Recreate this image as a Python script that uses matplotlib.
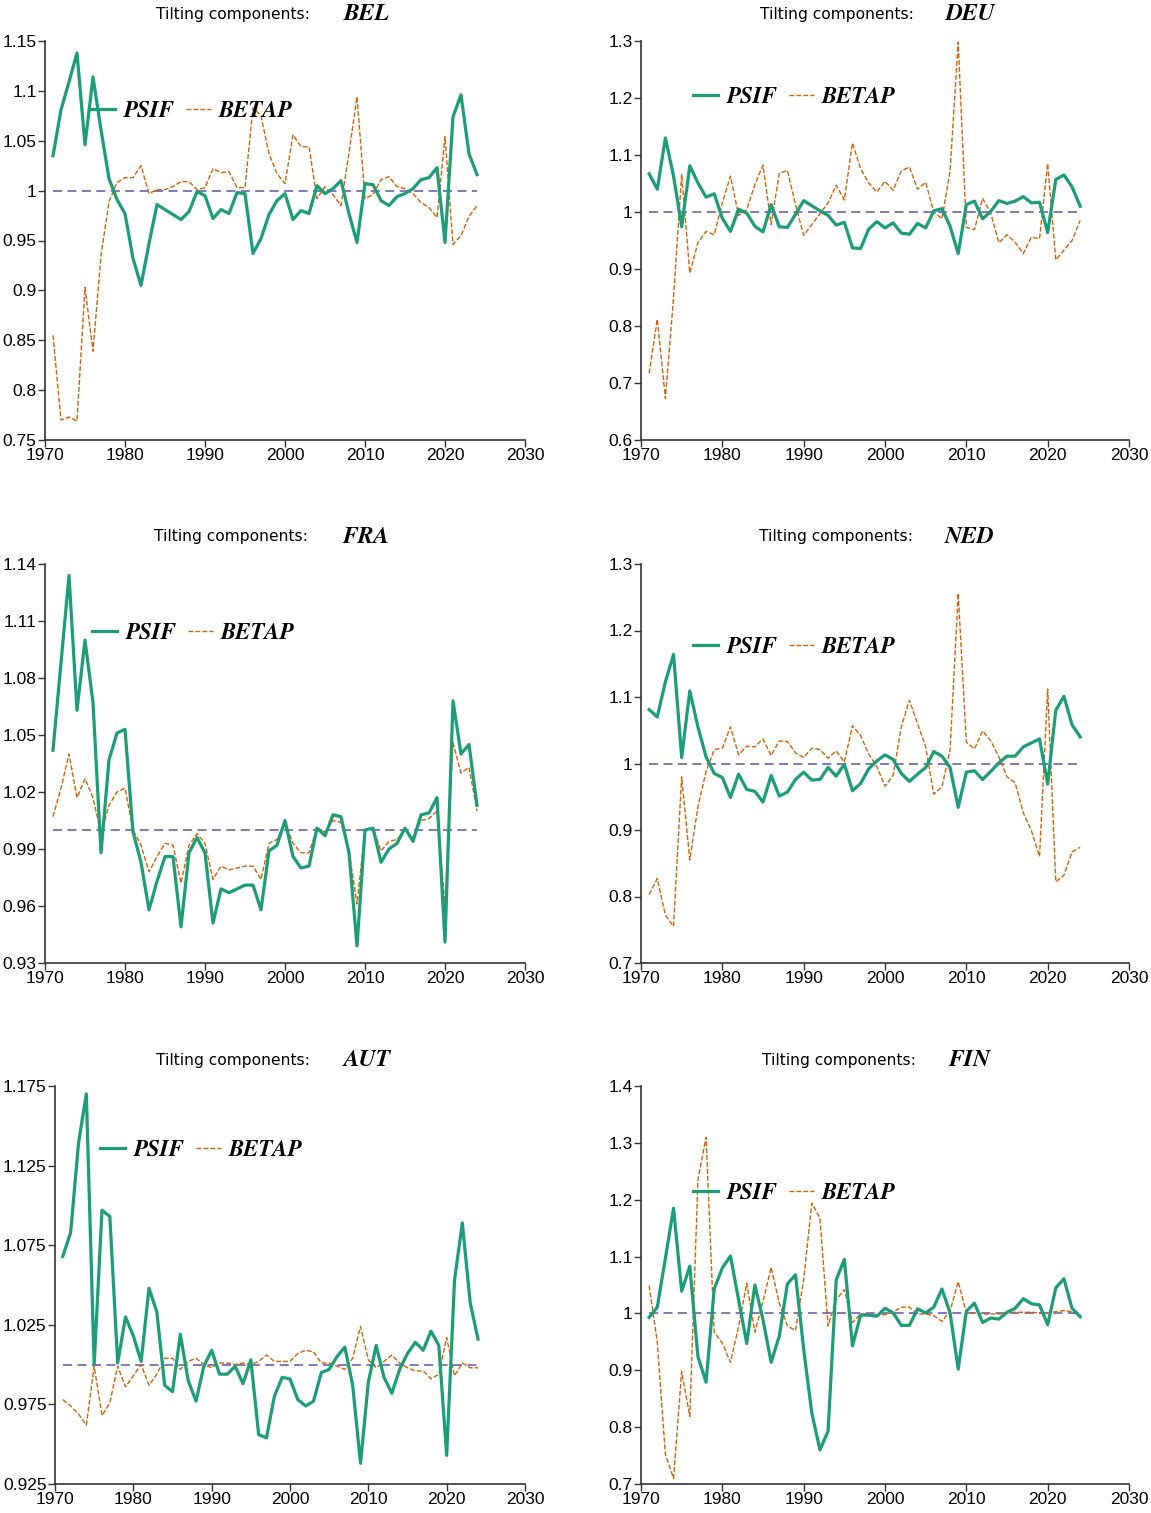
import matplotlib
matplotlib.use("Agg")
import matplotlib.pyplot as plt

# years on the x axis
years = list(range(1971, 2025))

# -------------------------------
# data
# -------------------------------
bel_psif = [1.035, 1.081, 1.109, 1.138, 1.046, 1.114, 1.061, 1.012, 0.991, 0.977,
            0.932, 0.905, 0.947, 0.986, 0.981, 0.976, 0.971, 0.979, 0.999, 0.995,
            0.972, 0.981, 0.977, 0.998, 0.997, 0.937, 0.952, 0.976, 0.990, 0.997,
            0.971, 0.980, 0.977, 1.005, 0.997, 1.002, 1.010, 0.977, 0.948, 1.007,
            1.006, 0.990, 0.985, 0.994, 0.997, 1.002, 1.011, 1.013, 1.023, 0.948,
            1.074, 1.096, 1.037, 1.016]
bel_betap = [0.855, 0.770, 0.773, 0.769, 0.903, 0.839, 0.935, 0.989, 1.008, 1.013,
             1.013, 1.025, 0.997, 1.001, 1.001, 1.004, 1.009, 1.009, 1.001, 1.003,
             1.022, 1.018, 1.019, 1.003, 1.003, 1.083, 1.075, 1.037, 1.017, 1.007,
             1.056, 1.044, 1.044, 0.992, 1.004, 0.996, 0.985, 1.038, 1.094, 0.992,
             0.996, 1.011, 1.014, 1.004, 1.002, 0.997, 0.988, 0.983, 0.973, 1.054,
             0.946, 0.955, 0.974, 0.985]

deu_psif = [1.067, 1.040, 1.130, 1.063, 0.974, 1.081, 1.051, 1.026, 1.032, 0.989,
            0.966, 1.005, 0.998, 0.975, 0.965, 1.013, 0.974, 0.973, 0.996, 1.020,
            1.011, 1.002, 0.994, 0.977, 0.982, 0.937, 0.936, 0.970, 0.983, 0.972,
            0.981, 0.963, 0.961, 0.980, 0.972, 1.002, 1.006, 0.975, 0.927, 1.013,
            1.019, 0.988, 1.001, 1.020, 1.015, 1.019, 1.027, 1.016, 1.017, 0.964,
            1.057, 1.065, 1.044, 1.010]
deu_betap = [0.717, 0.812, 0.673, 0.850, 1.066, 0.893, 0.946, 0.966, 0.960, 1.016,
             1.063, 0.994, 1.004, 1.048, 1.082, 0.978, 1.068, 1.073, 1.013, 0.959,
             0.978, 0.997, 1.016, 1.047, 1.021, 1.121, 1.076, 1.051, 1.035, 1.054,
             1.038, 1.072, 1.079, 1.040, 1.052, 1.000, 0.988, 1.072, 1.298, 0.973,
             0.969, 1.024, 0.998, 0.946, 0.960, 0.947, 0.927, 0.956, 0.953, 1.085,
             0.916, 0.933, 0.950, 0.985]

fra_psif = [1.042, 1.088, 1.134, 1.063, 1.100, 1.067, 0.988, 1.037, 1.051, 1.053,
            0.999, 0.983, 0.958, 0.973, 0.986, 0.986, 0.949, 0.988, 0.996, 0.988,
            0.951, 0.969, 0.967, 0.969, 0.971, 0.971, 0.958, 0.989, 0.992, 1.005,
            0.986, 0.980, 0.981, 1.001, 0.997, 1.008, 1.007, 0.988, 0.939, 1.000,
            1.001, 0.983, 0.990, 0.993, 1.001, 0.994, 1.008, 1.009, 1.017, 0.941,
            1.068, 1.040, 1.045, 1.013]
fra_betap = [1.007, 1.022, 1.040, 1.017, 1.027, 1.017, 0.998, 1.013, 1.020, 1.022,
             1.000, 0.992, 0.978, 0.986, 0.993, 0.992, 0.972, 0.992, 0.998, 0.993,
             0.974, 0.981, 0.979, 0.980, 0.981, 0.981, 0.974, 0.993, 0.995, 1.004,
             0.993, 0.988, 0.988, 1.001, 0.999, 1.005, 1.004, 0.989, 0.961, 1.000,
             1.001, 0.989, 0.994, 0.995, 1.000, 0.996, 1.005, 1.006, 1.010, 0.960,
             1.046, 1.030, 1.033, 1.010]

ned_psif = [1.081, 1.070, 1.123, 1.164, 1.009, 1.109, 1.055, 1.010, 0.985, 0.979,
            0.949, 0.984, 0.961, 0.958, 0.942, 0.982, 0.951, 0.957, 0.976, 0.987,
            0.975, 0.976, 0.994, 0.981, 0.999, 0.959, 0.970, 0.992, 1.004, 1.013,
            1.006, 0.985, 0.973, 0.984, 0.994, 1.018, 1.011, 0.994, 0.934, 0.987,
            0.989, 0.976, 0.988, 1.001, 1.011, 1.011, 1.025, 1.031, 1.037, 0.969,
            1.080, 1.101, 1.058, 1.040]
ned_betap = [0.803, 0.827, 0.772, 0.755, 0.980, 0.855, 0.935, 0.988, 1.021, 1.023,
             1.055, 1.013, 1.026, 1.025, 1.037, 1.012, 1.034, 1.033, 1.016, 1.009,
             1.023, 1.021, 1.008, 1.019, 1.002, 1.057, 1.042, 1.014, 0.995, 0.966,
             0.982, 1.055, 1.095, 1.060, 1.025, 0.954, 0.965, 1.020, 1.256, 1.032,
             1.022, 1.049, 1.034, 1.010, 0.980, 0.971, 0.926, 0.899, 0.860, 1.112,
             0.822, 0.832, 0.867, 0.874]

aut_psif = [1.068, 1.083, 1.139, 1.170, 1.000, 1.097, 1.093, 1.001, 1.030, 1.018,
            1.002, 1.048, 1.033, 0.987, 0.983, 1.019, 0.990, 0.977, 0.999, 1.009,
            0.994, 0.994, 0.999, 0.988, 1.003, 0.956, 0.954, 0.980, 0.992, 0.991,
            0.978, 0.974, 0.977, 0.995, 0.997, 1.005, 1.011, 0.987, 0.938, 0.989,
            1.012, 0.992, 0.982, 0.997, 1.007, 1.014, 1.009, 1.021, 1.012, 0.943,
            1.053, 1.089, 1.039, 1.016]
aut_betap = [0.978, 0.974, 0.969, 0.962, 0.999, 0.968, 0.976, 0.999, 0.986, 0.993,
             1.000, 0.987, 0.994, 1.004, 1.004, 0.997, 1.002, 1.004, 1.000, 0.998,
             1.001, 1.001, 1.000, 1.001, 1.000, 1.002, 1.006, 1.002, 1.002, 1.002,
             1.007, 1.009, 1.008, 1.001, 1.001, 0.999, 0.997, 1.004, 1.024, 1.003,
             0.998, 1.002, 1.006, 1.001, 0.998, 0.996, 0.996, 0.991, 0.994, 1.017,
             0.993, 1.001, 0.998, 0.998]

fin_psif = [0.993, 1.011, 1.097, 1.185, 1.039, 1.083, 0.924, 0.879, 1.043, 1.080,
            1.101, 1.024, 0.947, 1.050, 0.989, 0.914, 0.960, 1.052, 1.068, 0.937,
            0.825, 0.760, 0.793, 1.059, 1.095, 0.943, 0.997, 0.997, 0.995, 1.009,
            1.001, 0.979, 0.979, 1.008, 1.001, 1.011, 1.043, 1.001, 0.902, 1.004,
            1.018, 0.984, 0.992, 0.990, 1.002, 1.009, 1.026, 1.017, 1.015, 0.980,
            1.045, 1.061, 1.009, 0.994]
fin_betap = [1.049, 0.950, 0.752, 0.710, 0.898, 0.819, 1.235, 1.310, 0.967, 0.948,
             0.914, 0.977, 1.053, 0.967, 1.021, 1.081, 1.018, 0.978, 0.970, 1.059,
             1.194, 1.168, 0.978, 1.024, 1.042, 0.984, 0.999, 0.999, 0.998, 0.998,
             1.002, 1.011, 1.011, 0.999, 0.999, 0.996, 0.986, 1.004, 1.056, 1.001,
             1.001, 0.999, 0.999, 0.999, 1.001, 1.002, 1.002, 1.002, 1.001, 1.001,
             1.003, 1.005, 1.003, 1.001]

# reference level drawn as the purple dashed line
ref_level = 1.0

# y ticks of each panel
bel_yticks = [0.75, 0.8, 0.85, 0.9, 0.95, 1.0, 1.05, 1.1, 1.15]
deu_yticks = [0.6, 0.7, 0.8, 0.9, 1.0, 1.1, 1.2, 1.3]
fra_yticks = [0.93, 0.96, 0.99, 1.02, 1.05, 1.08, 1.11, 1.14]
ned_yticks = [0.7, 0.8, 0.9, 1.0, 1.1, 1.2, 1.3]
aut_yticks = [0.925, 0.975, 1.025, 1.075, 1.125, 1.175]
fin_yticks = [0.7, 0.8, 0.9, 1.0, 1.1, 1.2, 1.3, 1.4]
xticks = [1970, 1980, 1990, 2000, 2010, 2020, 2030]

GREEN = "#1b9e77"
ORANGE = "#d95f02"
PURPLE = "#7570b3"

W, H = 1151, 1513
fig = plt.figure(figsize=(W / 100, H / 100), dpi=100)
fig.patch.set_facecolor("white")

code_font = dict(family="STIXGeneral", style="italic", weight="bold")

# panel layout in pixels: left, right, top, bottom, title x's, legend anchor
panels = [
    ("BEL", bel_psif, bel_betap, bel_yticks, (45, 525, 41, 440), (156, 344, 14), (90, 111)),
    ("DEU", deu_psif, deu_betap, deu_yticks, (641, 1129, 41, 440), (760, 945, 14), (693, 97)),
    ("FRA", fra_psif, fra_betap, fra_yticks, (45, 525, 564, 963), (154, 342, 537), (92, 633)),
    ("NED", ned_psif, ned_betap, ned_yticks, (641, 1129, 564, 963), (759, 945, 537), (693, 647)),
    ("AUT", aut_psif, aut_betap, aut_yticks, (55, 525, 1086, 1484), (156, 344, 1060), (100, 1150)),
    ("FIN", fin_psif, fin_betap, fin_yticks, (641, 1129, 1086, 1484), (762, 948, 1060), (693, 1193)),
]

for code, psif, betap, yticks, box, ttl, leg in panels:
    l, r, t, b = box
    ax = fig.add_axes([l / W, 1 - b / H, (r - l) / W, (b - t) / H])

    ax.plot(years, psif, color=GREEN, lw=2.3, label="PSIF", zorder=3)
    ax.plot(years, [ref_level] * len(years), color=PURPLE, lw=1.3,
            dashes=(5, 3), zorder=2)
    ax.plot(years, betap, color=ORANGE, lw=1.0, dashes=(3.5, 1.5),
            label="BETAP", zorder=2)

    ax.set_xlim(1970, 2030)
    ax.set_ylim(yticks[0], yticks[-1])
    ax.set_xticks(xticks)
    ax.set_yticks(yticks)
    ax.set_yticklabels([f"{v:g}" for v in yticks])
    ax.set_xticklabels([str(v) for v in xticks])

    for side in ["top", "right"]:
        ax.spines[side].set_visible(False)
    for side in ["left", "bottom"]:
        ax.spines[side].set_color("#333333")
        ax.spines[side].set_linewidth(1.2)
    ax.tick_params(direction="out", length=5, width=1, color="#333333",
                   labelsize=12.5, pad=1)
    for lab in ax.get_xticklabels() + ax.get_yticklabels():
        lab.set_family("Liberation Sans")

    # title
    fig.text(ttl[0] / W, 1 - ttl[2] / H, "Tilting components:",
             family="DejaVu Sans", fontsize=11.2, ha="left", va="center")
    fig.text(ttl[1] / W, 1 - ttl[2] / H, code, fontsize=17,
             ha="left", va="center", **code_font)

    # legend
    ax.legend(loc="center left", bbox_to_anchor=(leg[0] / W, 1 - leg[1] / H),
              bbox_transform=fig.transFigure, ncol=2, frameon=False,
              borderpad=0, borderaxespad=0, handlelength=1.1,
              handletextpad=0.35, columnspacing=0.5,
              prop=dict(size=16.5, **code_font))

fig.savefig("out.png", dpi=100)
